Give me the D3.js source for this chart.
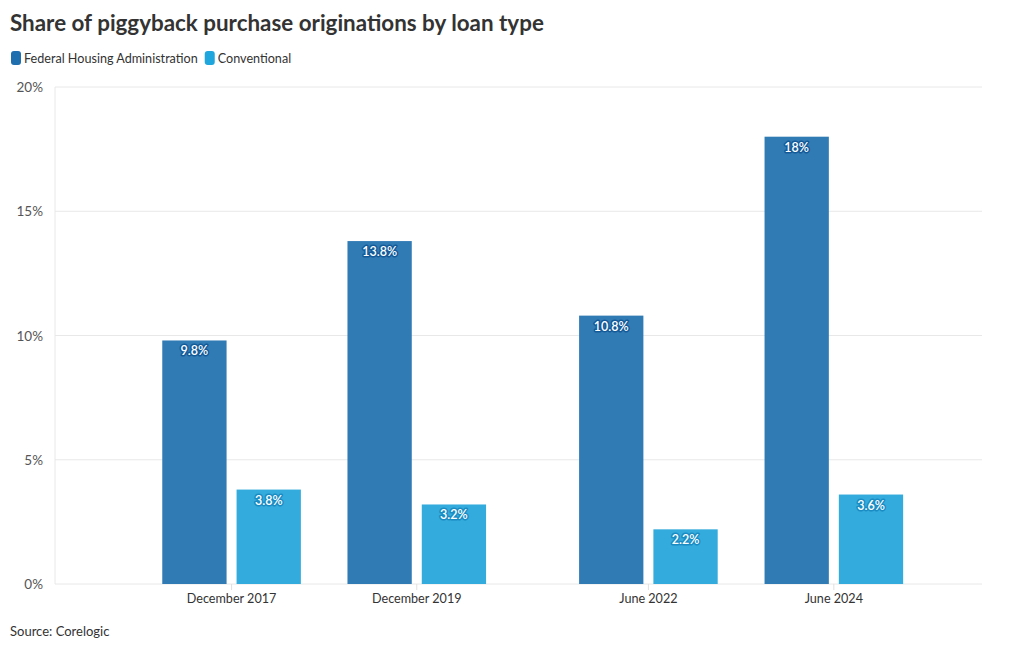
<!DOCTYPE html>
<html><head><meta charset="utf-8">
<script src="https://cdn.jsdelivr.net/npm/d3@7"></script>
<style>
body{margin:0;background:#fff;font-family:Lato,"Noto Sans",sans-serif;}
svg text{font-family:Lato,"Noto Sans",sans-serif;}
</style></head>
<body>
<svg id="c" width="1020" height="650"></svg>
<script>
const categories = ["December 2017","December 2019","June 2022","June 2024"];
const dates = ["2017-12-01","2019-12-01","2022-06-01","2024-06-01"];
const fhaValues = [9.8, 13.8, 10.8, 18];
const conventionalValues = [3.8, 3.2, 2.2, 3.6];
const seriesNames = ["Federal Housing Administration","Conventional"];
const yTicks = [0,5,10,15,20];

const parse = d3.timeParse("%Y-%m-%d");
const svg = d3.select("#c");
const m = {left:55, right:38, top:87, bottom:66};
const W = 1020, H = 650;
const x = d3.scaleTime().domain([parse("2016-01-05"), parse("2026-01-06")]).range([m.left, W - m.right]);
const y = d3.scaleLinear().domain([0,20]).range([H - m.bottom, m.top]);

const colors = ["#1f6eae","#1fa6dc"];
const barColors = ["#317bb4","#33abdc"];
const haloColors = ["#135a99","#1a8cc4"];

// title
svg.append("text").attr("x",10).attr("y",31).attr("font-size",22.4).attr("font-weight",700)
  .attr("fill","#333").text("Share of piggyback purchase originations by loan type");

// legend
let lx = 11;
seriesNames.forEach((s,i)=>{
  svg.append("rect").attr("x",lx).attr("y",51).attr("width",10).attr("height",14).attr("rx",3)
    .attr("fill",colors[i]);
  const t = svg.append("text").attr("x",lx+13).attr("y",63).attr("font-size",12.6).attr("fill","#333").text(s);
  lx += 13 + t.node().getComputedTextLength() + 7;
});

// grid
const g = svg.append("g");
g.selectAll("line.grid").data(yTicks).join("line")
  .attr("x1",m.left).attr("x2",W-m.right)
  .attr("y1",d=>y(d)).attr("y2",d=>y(d))
  .attr("stroke","#e8e8e8").attr("stroke-width",1);
g.append("line").attr("x1",m.left).attr("x2",m.left).attr("y1",y(20)).attr("y2",y(0))
  .attr("stroke","#e8e8e8");

// y labels
g.selectAll("text.yt").data(yTicks).join("text")
  .attr("x",43).attr("y",d=>y(d)+5).attr("text-anchor","end")
  .attr("font-size",13.5).attr("fill","#555").text(d=>d+"%");

// x ticks
const xd = dates.map(parse);
g.selectAll("line.xt").data(xd).join("line")
  .attr("x1",d=>x(d)).attr("x2",d=>x(d)).attr("y1",y(0)).attr("y2",y(0)+6)
  .attr("stroke","#e0e0e0");
g.selectAll("text.xl").data(categories).join("text")
  .attr("x",(d,i)=>x(xd[i])).attr("y",y(0)+19).attr("text-anchor","middle")
  .attr("font-size",12.6).attr("fill","#333").text(d=>d);

// bars
const bw = 64.3, gap = 10;
const series = [fhaValues, conventionalValues];
series.forEach((vals,si)=>{
  const off = si===0 ? -(gap/2 + bw) : gap/2;
  const bg = svg.append("g");
  bg.selectAll("rect").data(vals).join("rect")
    .attr("x",(d,i)=>x(xd[i]) + off)
    .attr("y",d=>y(d)).attr("width",bw).attr("height",d=>y(0)-y(d))
    .attr("fill",barColors[si]);
  bg.selectAll("text").data(vals).join("text")
    .attr("x",(d,i)=>x(xd[i]) + off + bw/2)
    .attr("y",d=>y(d)+15).attr("text-anchor","middle")
    .attr("font-size",12.5).attr("font-weight",600).attr("fill","#fff")
    .attr("stroke",haloColors[si]).attr("stroke-width",3).attr("paint-order","stroke")
    .attr("stroke-linejoin","round")
    .text(d=>d+"%");
});

// source
svg.append("text").attr("x",10).attr("y",636).attr("font-size",13).attr("fill","#333").text("Source: Corelogic");
</script>
</body></html>
